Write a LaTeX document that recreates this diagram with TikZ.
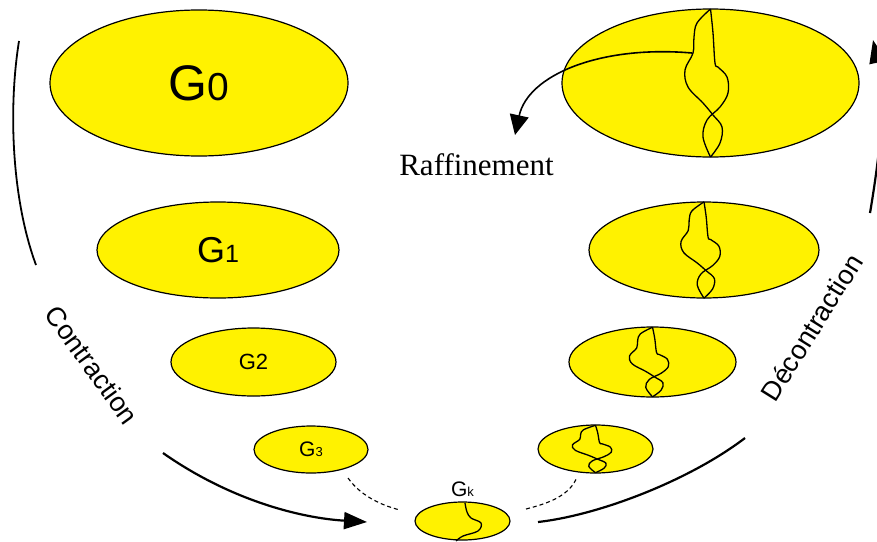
\documentclass[tikz,border=0pt]{standalone}
\usepackage{fontspec}
\setmainfont{Liberation Serif}
\setsansfont{Liberation Sans}
\usetikzlibrary{arrows.meta,positioning,shapes.geometric}

\begin{document}
\begin{tikzpicture}[x=1pt,y=-1pt,>={Triangle[length=23pt,width=17pt]},
    level/.style={ellipse,draw,fill=yellow,line width=1.2pt,inner sep=0pt,font=\sffamily},
    sweep/.style={line width=2.2pt}, link/.style={line width=1.1pt,dash pattern=on 4pt off 3pt},
    split/.pic={\draw[line width=1.3pt] plot[smooth,tension=0.6] coordinates {(0,-74) (-13.5,-60) (-16.5,-46) (-17.5,-30) (-25.5,-13) (-22.5,4) (-7.5,20) (2.5,32) (11.5,44) (9.5,60) (0,74)};
                \draw[line width=1.3pt] plot[smooth,tension=0.6] coordinates {(0,-74) (2.5,-50) (4.5,-20) (7.5,-16) (16.5,-6) (17.5,10) (9.5,24) (-3.5,37) (-7.5,54) (0,74)};}]

  \useasboundingbox (0,0) rectangle (877,541);

  \node[level,minimum width=298pt,minimum height=146pt] (g0) at (199,83)    {{\fontsize{50}{50}\selectfont G}{\fontsize{39}{39}\selectfont 0}};
  \node[level,minimum width=242pt,minimum height=96pt]  (g1) at (218,250)   {{\fontsize{36}{36}\selectfont G}{\fontsize{25}{25}\selectfont 1}};
  \node[level,minimum width=165pt,minimum height=68pt]  (g2) at (253.5,362) {{\fontsize{22}{22}\selectfont G2}};
  \node[level,minimum width=114pt,minimum height=47pt]  (g3) at (311,449.5) {{\fontsize{21}{21}\selectfont G}{\fontsize{13}{13}\selectfont 3}};
  \node[level,minimum width=95pt,minimum height=38pt]   (gk) at (462.5,521) {};
  \node[level,minimum width=297pt,minimum height=148pt] (r0) at (710.5,83)  {};
  \node[level,minimum width=230pt,minimum height=96pt]  (r1) at (704,250)   {};
  \node[level,minimum width=167pt,minimum height=70pt]  (r2) at (652.5,362) {};
  \node[level,minimum width=115pt,minimum height=48pt]  (r3) at (595.5,449) {};

  \node[font=\sffamily,inner sep=0pt] (gklabel) [above=5pt of gk] {{\fontsize{21}{21}\selectfont G}{\fontsize{13}{13}\selectfont k}};
  \node[font=\fontsize{31}{31}\selectfont,anchor=base] (raff) at (476.5,175) {Raffinement};
  \node[font=\sffamily\fontsize{27}{27}\selectfont,rotate=-54] (contr) at (92,365) {Contraction};
  \node[font=\sffamily\fontsize{27}{27}\selectfont,rotate=58] (decontr) at (811.5,327.5) {Décontraction};

  \pic at (r0) {split};
  \pic[xscale=0.9,yscale=0.65] at (r1) {split};
  \pic[xscale=0.9,yscale=0.47] at (r2) {split};
  \pic[xscale=0.9,yscale=0.32] at (r3) {split};
  \draw[line width=1.3pt] plot[smooth,tension=0.6] coordinates {(465,503) (467,512) (471,518) (481,523) (478,531) (463,536) (456,541)};

  \coordinate (lt) at (19,41);   \coordinate (lb) at (36,265);
  \coordinate (ct) at (163,453); \coordinate (ch) at (367,522);
  \coordinate (db) at (538,522); \coordinate (dt) at (745,438);
  \coordinate (ut) at (870,213); \coordinate (uh) at (873,40);
  \coordinate (rs) at (692,53);  \coordinate (rh) at (515,135);
  \coordinate (g3e) at (348,478); \coordinate (gkw) at (400,510);
  \coordinate (gke) at (526,509); \coordinate (r3e) at (577,477);

  \draw[sweep,line width=1.8pt] (lt) .. controls (8,110) and (12,200) .. (lb);
  \draw[sweep,->] (ct) .. controls (230,500) and (300,518) .. (ch);
  \draw[sweep] (db) .. controls (600,515) and (690,480) .. (dt);
  \draw[sweep,->] (ut) .. controls (884,130) and (884,90) .. (uh);
  \draw[line width=1.6pt,-{Triangle[length=20pt,width=19pt]}] (rs) .. controls (600,45) and (528,75) .. (rh);
  \draw[link] (g3e) .. controls (360,495) and (380,505) .. (gkw);
  \draw[link] (gke) .. controls (550,503) and (570,495) .. (r3e);

\end{tikzpicture}
\end{document}
